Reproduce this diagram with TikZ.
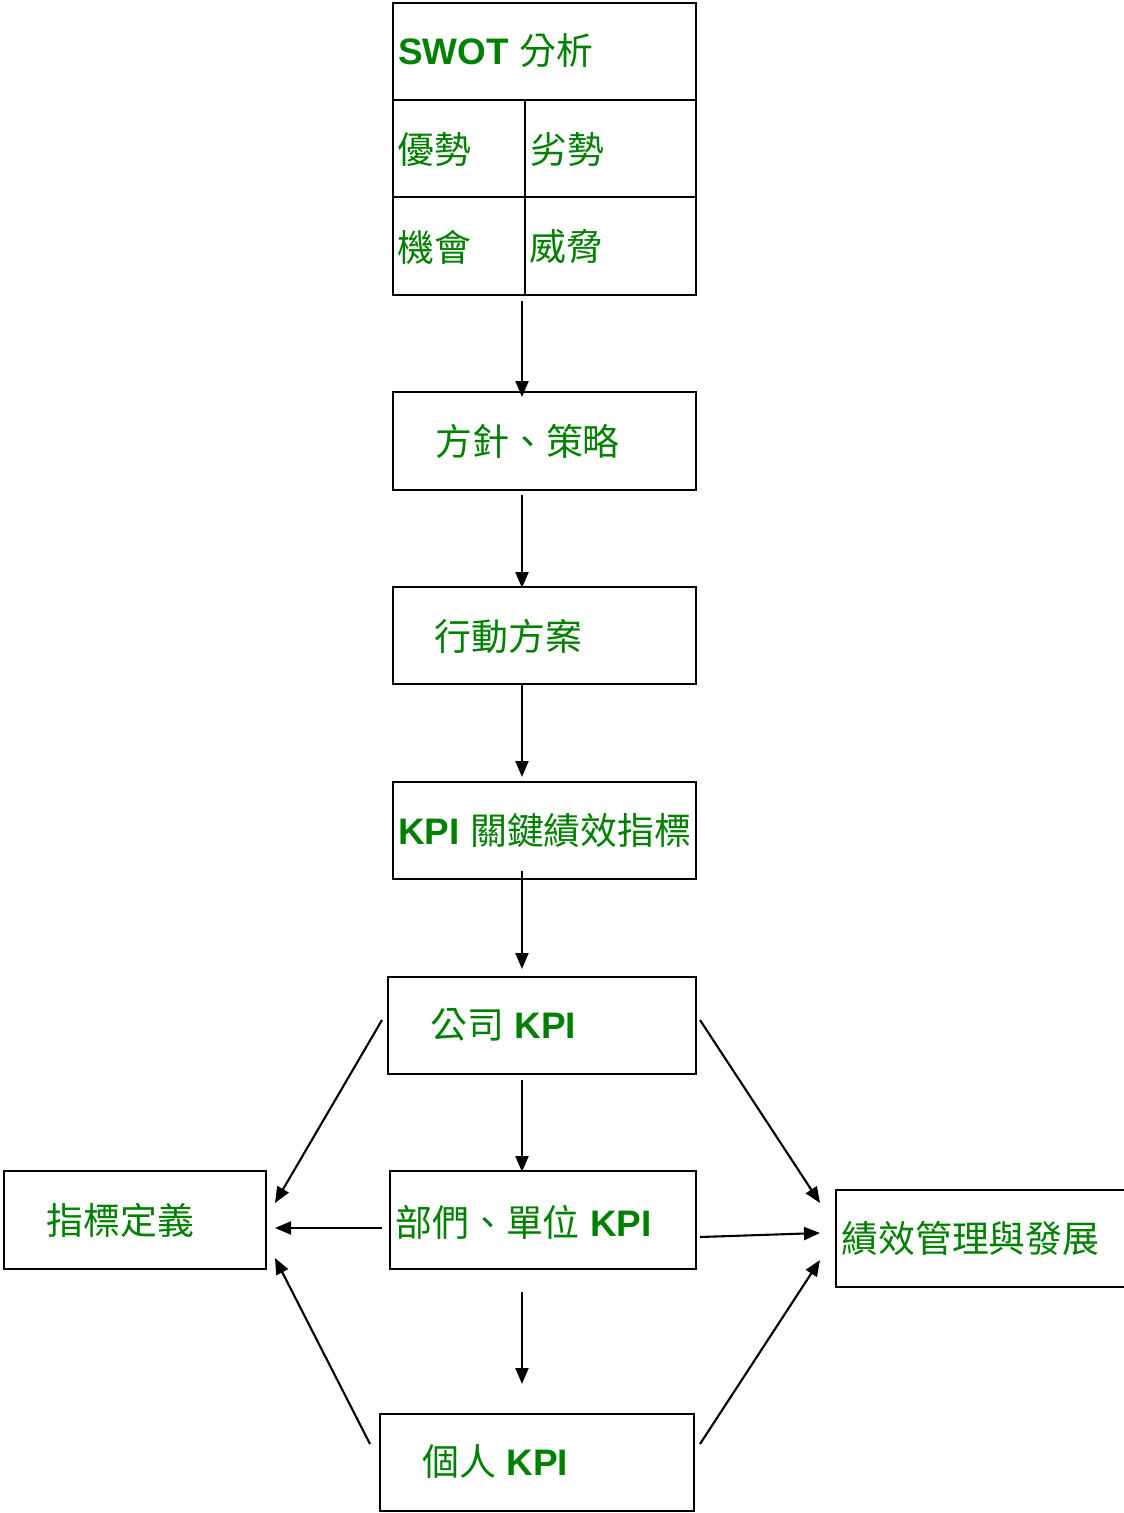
\documentclass[tikz,border=0pt]{standalone}
\usepackage{fontspec}
\setmainfont{Liberation Sans}
\newfontfamily\cjk{Noto Sans CJK TC}
\usetikzlibrary{arrows.meta}
\definecolor{tgreen}{HTML}{008000}
\tikzset{
  box/.style={draw=black, line width=1.4pt, inner sep=0pt, fill=none},
  lbl/.style={anchor=west, inner sep=0pt, text=tgreen, font=\fontsize{21}{25}\selectfont},
  arr/.style={line width=1.2pt, -{Triangle[length=0.32cm,width=0.26cm]}},
  cell/.style={line width=1.4pt}
}
\newcommand{\kb}[1]{{\bfseries #1}}
\begin{document}
\begin{tikzpicture}[x=0.02cm,y=-0.02cm]
\useasboundingbox (0,0) rectangle (1123,1513);
% boxes
\node[box, minimum width=6.06cm, minimum height=5.84cm] (swot) at (544.5,149) {};
\draw[cell] (393,100) -- (696,100);
\draw[cell] (393,197) -- (696,197);
\draw[cell] (525,100) -- (525,295);
\node[box, minimum width=6.06cm, minimum height=1.96cm] (fz) at (544.5,441) {};
\node[box, minimum width=6.06cm, minimum height=1.94cm] (xd) at (544.5,635.5) {};
\node[box, minimum width=6.06cm, minimum height=1.94cm] (kpi) at (544.5,830.5) {};
\node[box, minimum width=6.16cm, minimum height=1.94cm] (gs) at (542,1025.5) {};
\node[box, minimum width=6.12cm, minimum height=1.96cm] (bm) at (543,1220) {};
\node[box, minimum width=6.28cm, minimum height=1.94cm] (gr) at (537,1462.5) {};
\node[box, minimum width=5.24cm, minimum height=1.96cm] (zb) at (135,1220) {};
\node[box, minimum width=5.78cm, minimum height=1.94cm] (jx) at (980.5,1238.5) {};
% labels
\node[lbl] (tswot) at (398,51) {\kb{SWOT} {\cjk 分析}};
\node[lbl] (tys) at (397,150) {\cjk 優勢};
\node[lbl] (tls) at (530,150) {\cjk 劣勢};
\node[lbl] (tjh) at (397,247) {\cjk 機會};
\node[lbl] (twx) at (529,247) {\cjk 威脅};
\node[lbl] (tfz) at (435,441) {\cjk 方針、策略};
\node[lbl] (txd) at (434,636) {\cjk 行動方案};
\node[lbl] (tkpi) at (398,830) {\kb{KPI} {\cjk 關鍵績效指標}};
\node[lbl] (tgs) at (430,1025) {{\cjk 公司} \kb{KPI}};
\node[lbl] (tbm) at (395,1222) {{\cjk 部們、單位} \kb{KPI}};
\node[lbl] (tgr) at (422,1462) {{\cjk 個人} \kb{KPI}};
\node[lbl] (tzb) at (46,1220) {\cjk 指標定義};
\node[lbl] (tjx) at (841,1238) {\cjk 績效管理與發展};
% connector end points
\coordinate (a1s) at (522,301); \coordinate (a1e) at (522,397);
\coordinate (a2s) at (522,495); \coordinate (a2e) at (522,588);
\coordinate (a3s) at (522,685); \coordinate (a3e) at (522,777);
\coordinate (a4s) at (522,871); \coordinate (a4e) at (522,969);
\coordinate (a5s) at (522,1080); \coordinate (a5e) at (522,1172);
\coordinate (a6s) at (522,1292); \coordinate (a6e) at (522,1384);
\coordinate (l1s) at (382,1020); \coordinate (l1e) at (275,1203);
\coordinate (l2s) at (382,1228); \coordinate (l2e) at (275,1228);
\coordinate (l3s) at (370,1444); \coordinate (l3e) at (275,1258);
\coordinate (r1s) at (700,1020); \coordinate (r1e) at (820,1203);
\coordinate (r2s) at (700,1237); \coordinate (r2e) at (820,1233);
\coordinate (r3s) at (700,1444); \coordinate (r3e) at (820,1260);
% connectors
\draw[arr] (a1s) -- (a1e);
\draw[arr] (a2s) -- (a2e);
\draw[arr] (a3s) -- (a3e);
\draw[arr] (a4s) -- (a4e);
\draw[arr] (a5s) -- (a5e);
\draw[arr] (a6s) -- (a6e);
\draw[arr] (l1s) -- (l1e);
\draw[arr] (l2s) -- (l2e);
\draw[arr] (l3s) -- (l3e);
\draw[arr] (r1s) -- (r1e);
\draw[arr] (r2s) -- (r2e);
\draw[arr] (r3s) -- (r3e);
\end{tikzpicture}
\end{document}
